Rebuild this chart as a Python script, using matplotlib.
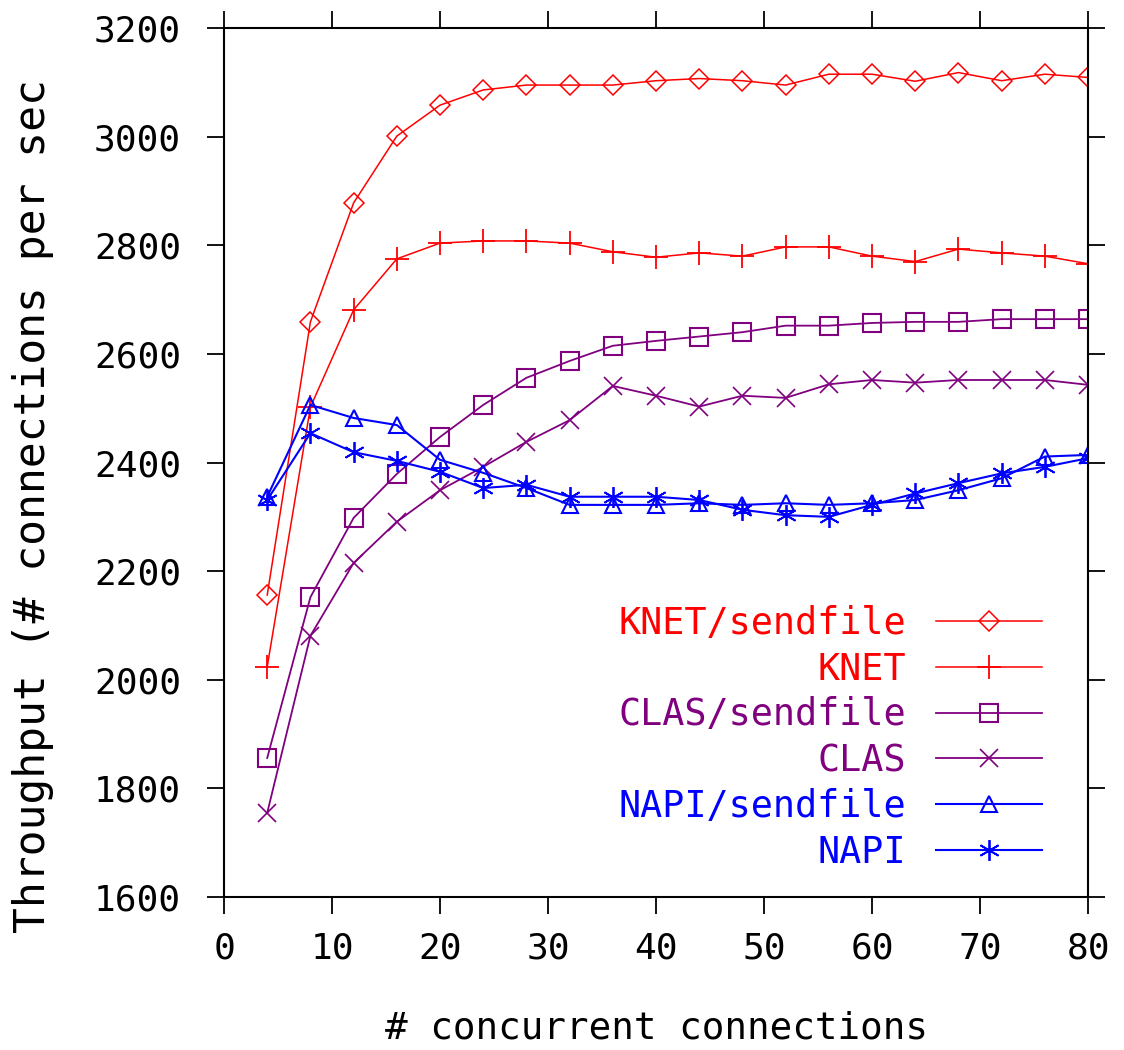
import numpy as np
import matplotlib.pyplot as plt

plt.rcParams['font.family'] = ['DejaVu Sans Mono']

# concurrent connections
conns = [4, 8, 12, 16, 20, 24, 28, 32, 36, 40, 44, 48, 52, 56, 60, 64, 68, 72, 76, 80]

knet_sendfile = [2156, 2659, 2878, 3001, 3058, 3086, 3095, 3095, 3095, 3103,
                 3107, 3103, 3095, 3115, 3115, 3102, 3118, 3103, 3115, 3109]
knet = [2024, 2502, 2681, 2775, 2804, 2808, 2808, 2804, 2788, 2778,
        2786, 2780, 2797, 2797, 2780, 2770, 2793, 2786, 2780, 2766]
clas_sendfile = [1856, 2152, 2298, 2379, 2447, 2506, 2556, 2587, 2615, 2624,
                 2632, 2640, 2652, 2652, 2657, 2659, 2659, 2664, 2664, 2664]
clas = [1755, 2081, 2215, 2291, 2349, 2392, 2438, 2478, 2541, 2523,
        2503, 2523, 2519, 2544, 2552, 2547, 2552, 2552, 2552, 2543]
napi_sendfile = [2337, 2506, 2482, 2469, 2405, 2381, 2353, 2322, 2322, 2322,
                 2325, 2322, 2325, 2322, 2325, 2331, 2349, 2371, 2411, 2414]
napi = [2331, 2454, 2419, 2403, 2383, 2353, 2359, 2337, 2337, 2337,
        2331, 2313, 2303, 2300, 2322, 2343, 2362, 2380, 2392, 2408]

red = '#ff0000'
purple = '#800080'
blue = '#0000ff'

fig = plt.figure(figsize=(11.24, 10.5), dpi=100)
ax = fig.add_axes([0.1993, 0.1457, 0.7687, 0.8276])

ms = 12
ax.plot(conns, knet_sendfile, color=red, lw=1.1, marker='D', ms=10.5, mfc='none', mew=1.1,
        label='KNET/sendfile')
ax.plot(conns, knet, color=red, lw=1.1, marker='+', ms=ms + 5, mew=1.3, label='KNET')
ax.plot(conns, clas_sendfile, color=purple, lw=1.3, marker='s', ms=ms + 1, mfc='none', mew=1.5,
        label='CLAS/sendfile')
ax.plot(conns, clas, color=purple, lw=1.3, marker='x', ms=ms + 1, mew=1.2, label='CLAS')
ax.plot(conns, napi_sendfile, color=blue, lw=1.5, marker='^', ms=ms, mfc='none', mew=1.5,
        label='NAPI/sendfile')
ax.plot(conns, napi, color=blue, lw=1.5, marker=(6, 2, 0), ms=ms + 3, mew=1.3, label='NAPI')

ax.set_xlim(0, 80)
ax.set_ylim(1600, 3200)
ax.set_xticks(np.arange(0, 81, 10))
ax.set_yticks(np.arange(1600, 3201, 200))

for s in ax.spines.values():
    s.set_linewidth(1.5)
ax.tick_params(direction='out', length=12, width=1.3, top=True, right=True,
               labelsize=26)
ax.tick_params(axis='y', pad=19)
ax.tick_params(axis='x', pad=13)

ax.set_xlabel('# concurrent connections', fontsize=27, labelpad=32)
ax.set_ylabel('Throughput (# connections per sec', fontsize=31)
ax.yaxis.set_label_coords(-0.197, 0.45)

leg = ax.legend(loc='lower right', bbox_to_anchor=(0.947, 0.03), frameon=False,
                markerfirst=False, fontsize=26.5, handlelength=2.9, handletextpad=0.8,
                labelspacing=0.24, borderpad=0, borderaxespad=0)
for t, ln in zip(leg.get_texts(), leg.get_lines()):
    t.set_color(ln.get_color())

fig.savefig('out.png', dpi=100)
